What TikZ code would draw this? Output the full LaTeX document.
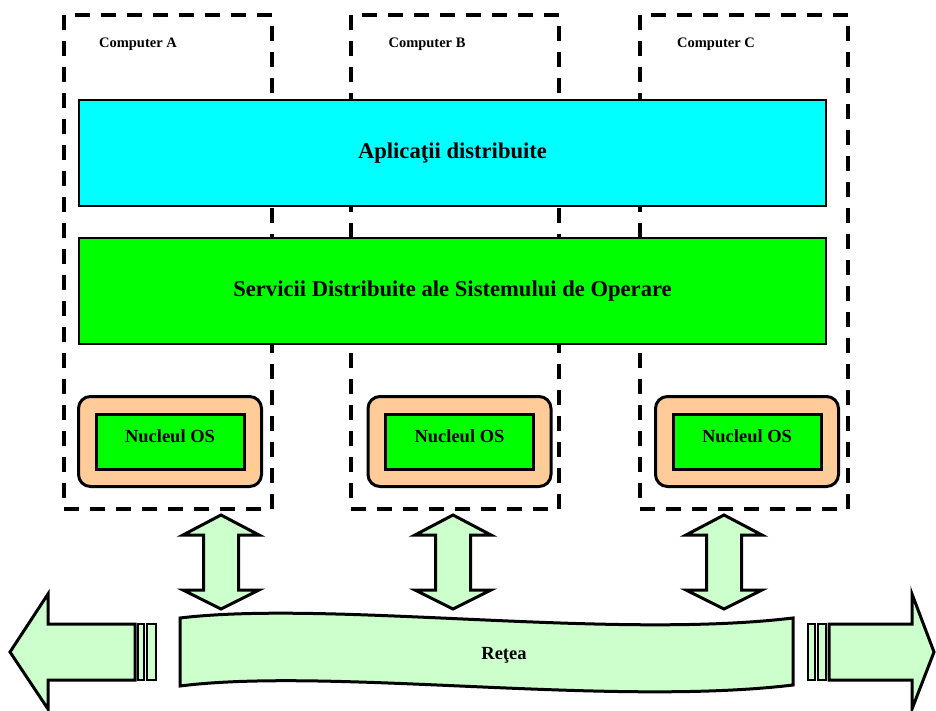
\documentclass[tikz,border=0pt]{standalone}
\usepackage{fontspec}
\setmainfont{Liberation Serif}
\usetikzlibrary{positioning}

\definecolor{appcyan}{RGB}{0,255,255}
\definecolor{svcgreen}{RGB}{0,255,0}
\definecolor{netgreen}{RGB}{204,255,204}
\definecolor{kernpeach}{RGB}{255,204,153}

\tikzset{
  compbox/.style={draw, line width=4pt, dash pattern=on 15pt off 11pt,
    minimum width=208pt, minimum height=494pt, inner sep=0pt},
  complabel/.style={font=\fontsize{14.5}{16}\selectfont\bfseries},
  layerbox/.style={draw, line width=2.8pt, minimum width=747pt,
    minimum height=106pt, font=\fontsize{22.6}{26}\selectfont\bfseries},
  kernshell/.style={draw, fill=kernpeach, rounded corners=12pt, line width=3pt,
    minimum width=183pt, minimum height=90pt},
  kernbox/.style={draw, fill=svcgreen, line width=3pt, minimum width=148pt,
    minimum height=55pt, text depth=10pt, font=\fontsize{18.5}{20}\selectfont\bfseries},
  bigarrow/.style={draw, fill=netgreen, line width=3pt, line join=miter},
}

\begin{document}
\begin{tikzpicture}[x=1pt,y=-1pt]
\useasboundingbox (0,0) rectangle (936,711);

% the three computers
\node[compbox] (compA) at (168,262) {};
\node[compbox] (compB) at (455,262) {};
\node[compbox] (compC) at (744,262) {};

\node[complabel] at (138,44) {Computer A};
\node[complabel] at (427,44) {Computer B};
\node[complabel] at (716,44) {Computer C};

% layers
\node[layerbox, fill=appcyan] (apps) at (452.5,153) {Aplicaţii distribuite};
\node[layerbox, fill=svcgreen] (services) at (452.5,291) {Servicii Distribuite ale Sistemului de Operare};

% kernels
\node[kernshell] (shellA) at (170,441.5) {};
\node[kernshell] (shellB) at (459.5,441.5) {};
\node[kernshell] (shellC) at (747,441.5) {};
\node[kernbox] (kernA) at (shellA) {Nucleul OS};
\node[kernbox] (kernB) at (shellB) {Nucleul OS};
\node[kernbox] (kernC) at (shellC) {Nucleul OS};

% links to the network
\foreach \x in {221,453,724}
  \draw[bigarrow] (\x,515) -- (\x+38,535) -- (\x+17.5,535) -- (\x+17.5,590)
    -- (\x+38,590) -- (\x,609) -- (\x-38,590) -- (\x-17.5,590)
    -- (\x-17.5,535) -- (\x-38,535) -- cycle;

% network
\draw[bigarrow] (180,618) .. controls (330,600) and (610,640) .. (793,618)
  -- (793,685) .. controls (610,707) and (330,667) .. (180,686) -- cycle;
\node[font=\fontsize{18.5}{20}\selectfont\bfseries] (net) at (504,655) {Reţea};

\draw[bigarrow] (10,652) -- (48,594) -- (48,624) -- (135,624) -- (135,680)
  -- (48,680) -- (48,709) -- cycle;
\draw[bigarrow, line width=2pt] (138,624) rectangle (144,680);
\draw[bigarrow, line width=2pt] (147,624) rectangle (156,680);

\draw[bigarrow] (934,652) -- (912,594) -- (912,624) -- (829,624) -- (829,680)
  -- (912,680) -- (912,709) -- cycle;
\draw[bigarrow, line width=2pt] (808,624) rectangle (815,680);
\draw[bigarrow, line width=2pt] (818,624) rectangle (826,680);

\end{tikzpicture}
\end{document}
